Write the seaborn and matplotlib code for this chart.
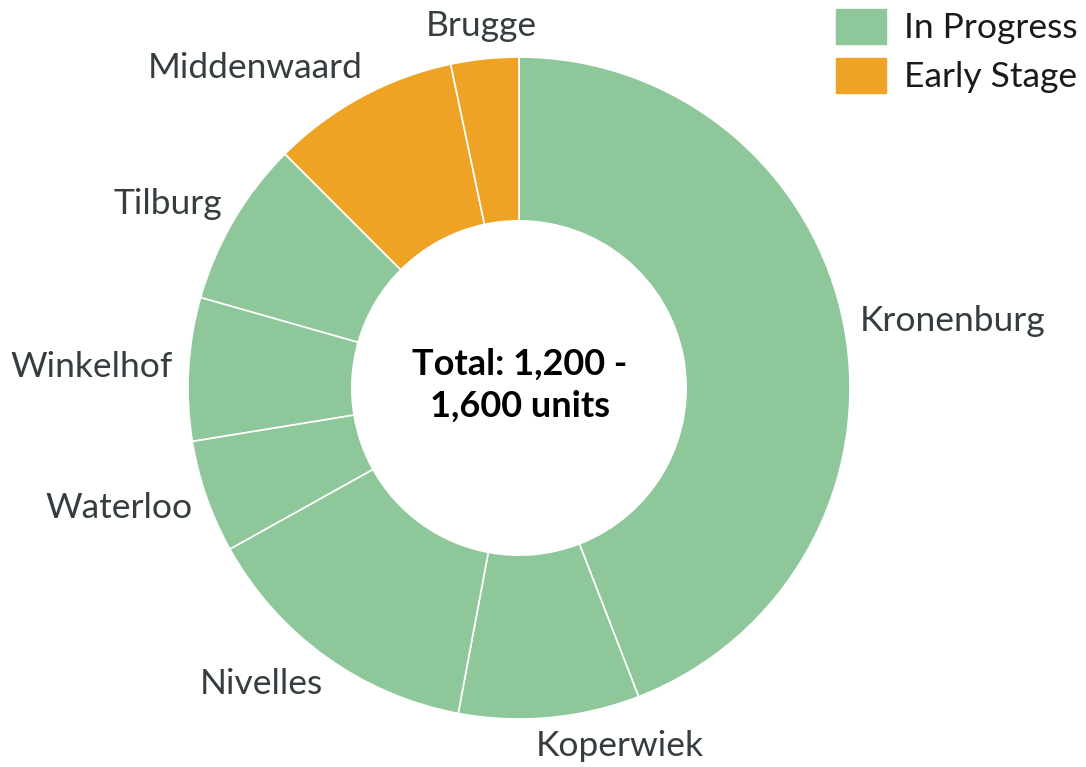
import matplotlib.pyplot as plt
import matplotlib.patches as mpatches
import numpy as np
import seaborn as sns

# data
sites = ['Kronenburg', 'Koperwiek', 'Nivelles', 'Waterloo', 'Winkelhof',
         'Tilburg', 'Middenwaard', 'Brugge']
units = [600, 120, 190, 75, 95, 110, 125, 45]
status = ['In Progress', 'In Progress', 'In Progress', 'In Progress',
          'In Progress', 'In Progress', 'Early Stage', 'Early Stage']
status_colors = {'In Progress': '#8EC79A', 'Early Stage': '#EEA324'}
center_text = 'Total: 1,200 -\n1,600 units'

sns.set_theme(style='white')
plt.rcParams['font.family'] = ['Lato', 'DejaVu Sans']

fig = plt.figure(figsize=(10.86, 7.67), dpi=100)
ax = fig.add_axes([0, 0, 1, 1])

cx, cy, r = 519, 379, 331
colors = [status_colors[s] for s in status]
wedges, _ = ax.pie(units, colors=colors, startangle=90, counterclock=False,
                   center=(cx, cy), radius=r, frame=True,
                   wedgeprops=dict(width=r * 0.495, edgecolor='white', linewidth=1.2))
ax.set_xlim(0, 1086)
ax.set_ylim(0, 767)
ax.set_aspect('equal')
ax.axis('off')

# outside labels
for w, name in zip(wedges, sites):
    ang = np.deg2rad((w.theta1 + w.theta2) / 2)
    x, y = np.cos(ang), np.sin(ang)
    px, py = cx + 1.1 * r * x, cy + 1.1 * r * y
    if abs(x) < 0.15 and y > 0:
        ha = 'center'
    elif x > 0:
        ha, px = 'left', px - 17
    else:
        ha, px = 'right', px + 17
    py = min(max(py, 21), 746)
    ax.text(px, py, name, ha=ha, va='center', fontsize=25.5, color='#363d40')

ax.text(cx + 1, cy + 3, center_text, ha='center', va='center', fontsize=26,
        fontweight='bold', color='black', linespacing=1.33)

handles = [mpatches.Patch(color=status_colors[k], label=k) for k in status_colors]
fig.legend(handles=handles, loc='upper right', bbox_to_anchor=(1.0, 1.0),
           frameon=False, fontsize=25.5, handlelength=1.4, handleheight=1.15,
           handletextpad=0.5, labelspacing=0.38, borderaxespad=0.1, borderpad=0.15,
           labelcolor='#1a1a1a')

fig.savefig('out.png', dpi=100)
